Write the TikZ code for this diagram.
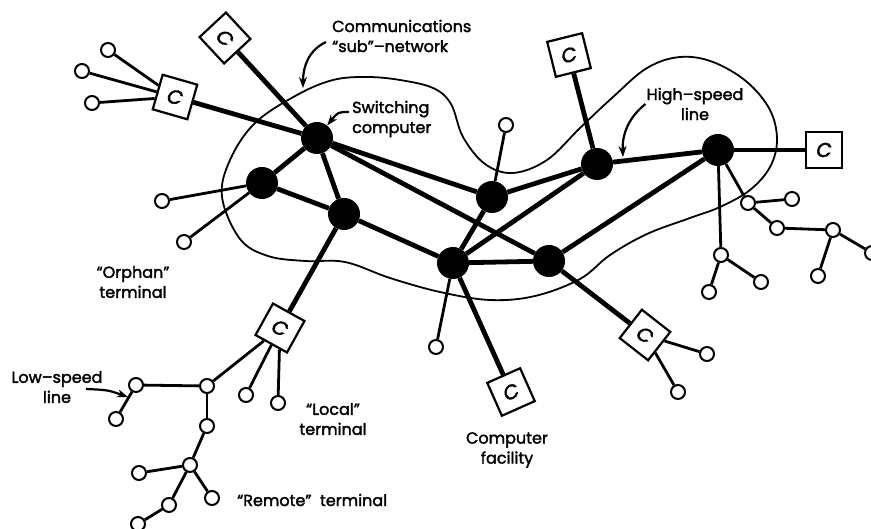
\documentclass[tikz,border=0pt]{standalone}
\usepackage{fontspec}
\setmainfont{Poppins}
\newfontfamily\lblfont{Poppins}[Ligatures=TeX, FakeBold=2]
\usetikzlibrary{arrows.meta}

\begin{document}
\begin{tikzpicture}[x=1pt, y=-1pt,
    switch/.style={circle, fill=black, minimum size=32pt, inner sep=0pt},
    term/.style={circle, draw, fill=white, line width=2pt, minimum size=14pt, inner sep=0pt},
    comp/.style={rectangle, draw, fill=white, line width=2.2pt, minimum size=36pt, inner sep=0pt,
      font=\lblfont\fontsize{20}{20}\selectfont\itshape},
    trunk/.style={line width=4.8pt},
    drop/.style={line width=2.8pt},
    pointer/.style={line width=2.2pt, -{Stealth[length=11pt, width=8pt]}},
    lbl/.style={align=center, inner sep=1pt, font=\lblfont\fontsize{16}{20}\selectfont}]
  \clip (0,0) rectangle (871,529);

  % communications "sub"-network
  \draw[line width=1.8pt] plot[smooth cycle, tension=0.6] coordinates {
    (222,197) (230,160) (255,123) (297,95) (333,80) (367,77) (400,80) (433,88)
    (451,104) (463,137) (485,164) (513,173) (547,160) (580,128) (613,97) (647,68)
    (680,57) (713,62) (747,82) (770,110) (777,140) (770,167) (750,190) (720,207)
    (690,218) (647,234) (610,255) (580,279) (535,296) (490,300) (440,292) (390,278)
    (345,262) (305,261) (268,256) (240,239)};

  % switching computers
  \node[switch] (s1) at (317,138) {};
  \node[switch] (s2) at (262,183) {};
  \node[switch] (s3) at (344,214) {};
  \node[switch] (s4) at (492,197) {};
  \node[switch] (s5) at (597,164) {};
  \node[switch] (s6) at (718,150) {};
  \node[switch] (s7) at (453,263) {};
  \node[switch] (s8) at (549,261) {};

  % computer facilities
  \node[comp, rotate=-47] (ctop)   at (225,38)  {C};
  \node[comp, rotate=-16] (cleft)  at (175,97)  {C};
  \node[comp, rotate=14]  (cmid)   at (569,55)  {C};
  \node[comp]             (cright) at (824,150) {C};
  \node[comp, rotate=-29] (clocal) at (280,328) {C};
  \node[comp, rotate=24]  (cfac)   at (511,392) {C};
  \node[comp, rotate=-38] (cse)    at (645,335) {C};

  % terminals
  \node[term] (t1)  at (108,50)  {};
  \node[term] (t2)  at (82,71)   {};
  \node[term] (t3)  at (92,103)  {};
  \node[term] (t4)  at (162,201) {};
  \node[term] (t5)  at (184,242) {};
  \node[term] (t6)  at (506,125) {};
  \node[term] (t7)  at (436,347) {};
  \node[term] (t8)  at (707,354) {};
  \node[term] (t9)  at (678,392) {};
  \node[term] (t10) at (721,255) {};
  \node[term] (t11) at (709,292) {};
  \node[term] (t12) at (761,282) {};
  \node[term] (t13) at (748,203) {};
  \node[term] (t14) at (792,199) {};
  \node[term] (t15) at (777,228) {};
  \node[term] (t16) at (833,230) {};
  \node[term] (t17) at (818,276) {};
  \node[term] (t18) at (872,253) {};
  \node[term] (t19) at (246,395) {};
  \node[term] (t20) at (278,403) {};
  \node[term] (t21) at (207,386) {};
  \node[term] (t22) at (136,385) {};
  \node[term] (t23) at (116,419) {};
  \node[term] (t24) at (207,426) {};
  \node[term] (t25) at (190,465) {};
  \node[term] (t26) at (139,473) {};
  \node[term] (t27) at (212,498) {};
  \node[term] (t28) at (169,505) {};
  \node[term] (t29) at (138,524) {};

  % high-speed lines
  \draw[trunk]
      (s1) edge (s2) (s1) edge (s3) (s1) edge (s4) (s1) edge (s8)
      (s2) edge (s3) (s3) edge (s7) (s4) edge (s5) (s4) edge (s7)
      (s5) edge (s7) (s7) edge (s8) (s5) edge (s6) (s6) edge (s8)
      (s1) edge (ctop) (s1) edge (cleft) (s5) edge (cmid) (s6) edge (cright)
      (s3) edge (clocal) (s7) edge (cfac) (s8) edge (cse)
      ;

  % low-speed lines
  \draw[drop]
      (cleft) edge (t1) (cleft) edge (t2) (cleft) edge (t3)
      (s2) edge (t4) (s2) edge (t5) (s4) edge (t6) (s7) edge (t7)
      (cse) edge (t8) (cse) edge (t9)
      (s6) edge (t10) (t10) edge (t11) (t10) edge (t12)
      (s6) edge (t13) (t13) edge (t14) (t13) edge (t15)
      (t15) edge (t16) (t16) edge (t17) (t16) edge (t18)
      (clocal) edge (t19) (clocal) edge (t20) (clocal) edge (t21)
      (t21) edge (t22) (t22) edge (t23) (t21) edge (t24) (t24) edge (t25)
      (t25) edge (t26) (t25) edge (t27) (t25) edge (t28) (t28) edge (t29)
      ;

  % labels
  \node[lbl, anchor=west, align=left] (comm)  at (331,36)  {Communications\\``sub''--network};
  \node[lbl, anchor=west, align=left] (swlbl) at (351,119) {Switching\\computer};
  \node[lbl] (hslbl) at (695,104) {High--speed\\line};
  \node[lbl] (orlbl) at (133,282) {``Orphan''\\terminal};
  \node[lbl] (lslbl) at (57,387)  {Low--speed\\line};
  \node[lbl] (lclbl) at (333,419) {``Local''\\terminal};
  \node[lbl] (cflbl) at (507,450) {Computer\\facility};
  \node[lbl, anchor=west] (rmlbl) at (236,500) {``Remote''~~terminal};

  % pointers
  \coordinate (subnet) at (303,88);
  \coordinate (hsline) at (623,157);
  \coordinate (lstail) at (86,389);
  \coordinate (lsline) at (128,397);
  \draw[pointer] ([shift={(-5,6)}]comm.west) .. controls (309,50) and (303,66) .. (subnet);
  \draw[pointer] ([shift={(-2,-7)}]swlbl.west) .. controls (338,112) .. (s1);
  \draw[pointer] (hslbl.west) .. controls (628,118) and (622,135) .. (hsline);
  \draw[pointer] (lstail) .. controls (108,390) .. (lsline);
\end{tikzpicture}
\end{document}
